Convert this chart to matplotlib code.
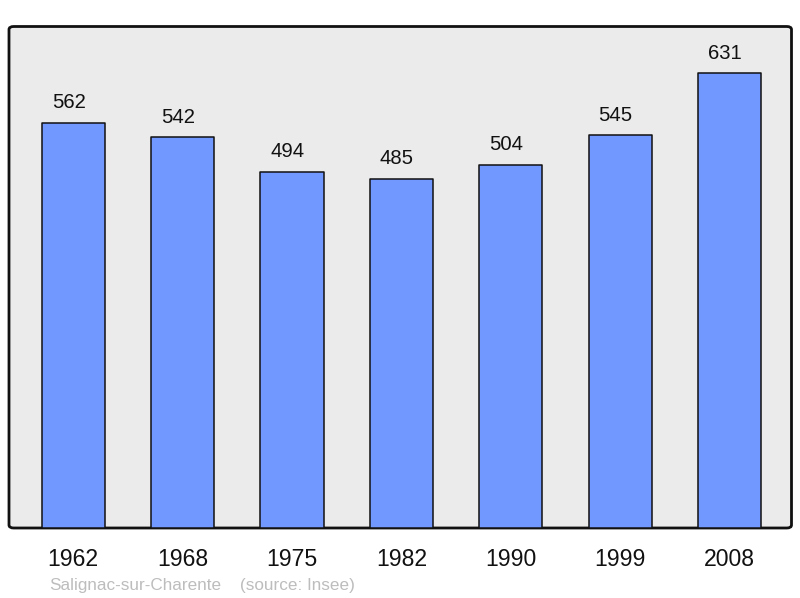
import matplotlib
matplotlib.use("Agg")
import matplotlib.pyplot as plt
from matplotlib.patches import FancyBboxPatch

years = ["1962", "1968", "1975", "1982", "1990", "1999", "2008"]
population = [562, 542, 494, 485, 504, 545, 631]
commune = "Salignac-sur-Charente"
source = "(source: Insee)"

plt.rcParams['font.family'] = ['Liberation Sans', 'DejaVu Sans']

W, H = 800, 598
fig = plt.figure(figsize=(W / 100, H / 100), dpi=100)
ax = fig.add_axes([9 / W, (H - 528) / H, 782.5 / W, 501.5 / H])
ax.set_facecolor('none')
for s in ax.spines.values():
    s.set_visible(False)

bg = FancyBboxPatch((0, 0), 1, 1, boxstyle="round,pad=0,rounding_size=0.006",
                    transform=ax.transAxes, facecolor="#ebebeb", edgecolor="#111111",
                    linewidth=2, zorder=0, clip_on=False)
ax.add_patch(bg)

x = list(range(len(years)))
bars = ax.bar(x, population, width=0.576, color="#7098ff", edgecolor="#111111",
              linewidth=1.1, zorder=2)
for b in bars:
    b.set_joinstyle('round')

for xi, v in zip(x, population):
    ax.annotate(str(v), (xi, v), xytext=(-3.3, 10.6), textcoords='offset points',
                ha='center', va='baseline', fontsize=14.6, color='#111111')

ax.set_xlim(-0.587, 6.566)
ax.set_ylim(0, 696)
ax.set_xticks(x)
ax.set_xticklabels(years, fontsize=16.6, color='#111111')
ax.tick_params(axis='x', length=0, pad=14.5)
ax.set_yticks([])

fig.text(49 / W, (H - 590) / H, commune, fontsize=12.3, color='#bdbdbd', va='baseline')
fig.text(240 / W, (H - 590) / H, source, fontsize=12.3, color='#bdbdbd', va='baseline')

fig.savefig("out.png", dpi=100, facecolor='white')
